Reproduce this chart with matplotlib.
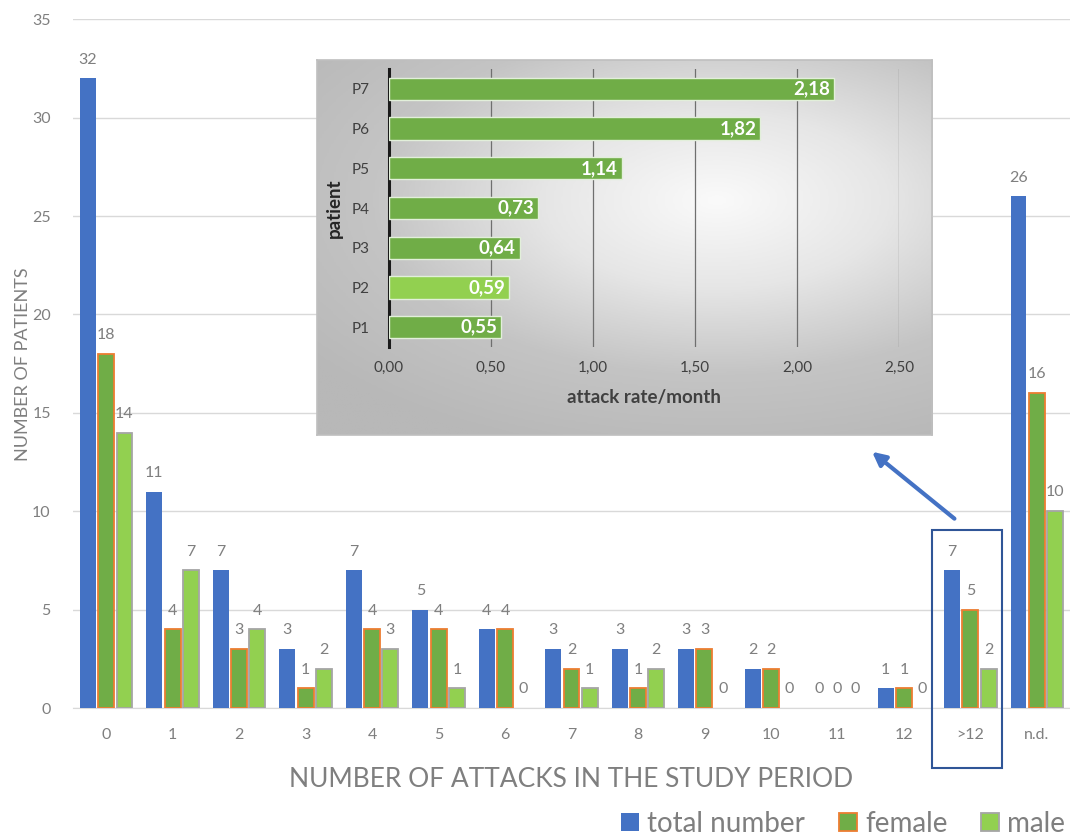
import numpy as np
import matplotlib
matplotlib.use("Agg")
from matplotlib import pyplot as plt
from matplotlib.patches import Rectangle
from matplotlib.ticker import FuncFormatter
from matplotlib.colors import LinearSegmentedColormap

plt.rcParams['font.family'] = ['Lato', 'DejaVu Sans']

# number of patients per number of attacks
categorias = ["0", "1", "2", "3", "4", "5", "6", "7", "8", "9", "10", "11", "12", ">12", "n.d."]
total = [32, 11, 7, 3, 7, 5, 4, 3, 3, 3, 2, 0, 1, 7, 26]
mujeres = [18, 4, 3, 1, 4, 4, 4, 2, 1, 3, 2, 0, 1, 5, 16]
hombres = [14, 7, 4, 2, 3, 1, 0, 1, 2, 0, 0, 0, 0, 2, 10]

# attack rate of the patients with more than 12 attacks
pacientes = ["P1", "P2", "P3", "P4", "P5", "P6", "P7"]
tasa = [0.55, 0.59, 0.64, 0.73, 1.14, 1.82, 2.18]

gris = "#7f7f7f"
azul = "#4472C4"
verde = "#70AD47"
verde_cl = "#92D050"
naranja = "#ED7D31"

fig = plt.figure(figsize=(10.7, 8.38), dpi=100)
ax = fig.add_axes([0.0682, 0.155, 0.9318, 0.822])

x = np.arange(len(categorias))
w = 0.24
d = 0.275
b1 = ax.bar(x - d, total, w, color=azul, label="total number", zorder=3)
b2 = ax.bar(x, mujeres, w, color=verde, edgecolor=naranja, linewidth=1.3, label="female", zorder=3)
b3 = ax.bar(x + d, hombres, w, color=verde_cl, edgecolor="#A5A5A5", linewidth=1.3, label="male", zorder=3)
for barras in (b1, b2, b3):
    for r in barras:
        if r.get_height() == 0:
            r.set_linewidth(0)
        ax.text(r.get_x() + r.get_width() / 2, r.get_height() + 0.6, str(int(r.get_height())),
                ha="center", va="bottom", fontsize=11.5, color=gris)

ax.set_xlim(-0.5, len(categorias) - 0.5)
ax.set_ylim(0, 35)
ax.set_yticks(range(0, 36, 5))
ax.set_xticks(x)
ax.set_xticklabels(categorias)
ax.tick_params(length=0, labelsize=11.5, colors=gris, pad=14)
ax.tick_params(axis="y", pad=16)
ax.grid(axis="y", color="#D9D9D9", linewidth=1, zorder=0)
for s in ["top", "right", "left"]:
    ax.spines[s].set_visible(False)
ax.spines["bottom"].set_color("#D9D9D9")
ax.set_xlabel("NUMBER OF ATTACKS IN THE STUDY PERIOD", fontsize=19, color=gris, labelpad=18)
ax.set_ylabel("NUMBER OF PATIENTS", fontsize=13, color=gris, labelpad=1)

# box around the >12 group
i = categorias.index(">12")
ax.add_patch(Rectangle((i - 0.58, -3.05), 1.06, 12.1, fill=False, edgecolor="#2F5597",
                       linewidth=1.5, clip_on=False, zorder=5))

fig.legend(loc="center left", bbox_to_anchor=(0.557, 0.017), ncol=3, frameon=False,
           fontsize=20, labelcolor=gris, handlelength=0.65, handleheight=0.65,
           handletextpad=0.3, columnspacing=1.2)

# arrow to the inset
ax.annotate("", xy=(0.813, 0.463), xytext=(0.894, 0.379), xycoords="figure fraction",
            textcoords="figure fraction",
            arrowprops=dict(arrowstyle="-|>,head_length=0.8,head_width=0.4", color=azul, lw=3))

# inset background with radial gradient
fondo = fig.add_axes([0.2963, 0.4809, 0.5748, 0.4475], zorder=10)
yy, xx = np.mgrid[-1:1:200j, -1:1:260j]
rr = np.sqrt(((xx - 0.3) / 1.2) ** 2 + (yy + 0.25) ** 2)
cmap = LinearSegmentedColormap.from_list("fondo", ["#FAFAFA", "#E6E6E6", "#C4C4C4", "#B8B8B8"])
fondo.imshow(rr, cmap=cmap, vmin=0, vmax=1.4, aspect="auto", extent=(0, 1, 0, 1))
fondo.set_xticks([])
fondo.set_yticks([])
for s in fondo.spines.values():
    s.set_color("#BFBFBF")
    s.set_linewidth(1.2)

ins = fig.add_axes([0.3636, 0.5859, 0.4766, 0.3317], zorder=11)
ins.patch.set_alpha(0)
colores = [verde] * len(pacientes)
colores[1] = verde_cl
yb = np.arange(len(pacientes))
barras = ins.barh(yb, tasa, 0.56, color=colores, edgecolor="#E2EFDA", linewidth=1, zorder=3)
for r, v in zip(barras, tasa):
    ins.text(v - 0.02, r.get_y() + r.get_height() / 2, f"{v:.2f}".replace(".", ","),
             ha="right", va="center", color="white", fontsize=13.5, fontweight="bold")
ins.set_xlim(0, 2.5)
ins.set_ylim(-0.5, len(pacientes) - 0.5)
ins.set_xticks(np.arange(0, 2.51, 0.5))
ins.xaxis.set_major_formatter(FuncFormatter(lambda v, p: f"{v:.2f}".replace(".", ",")))
ins.set_yticks(yb)
ins.set_yticklabels(pacientes)
ins.tick_params(length=0, labelsize=11, colors="#404040")
ins.tick_params(axis="x", pad=10)
ins.tick_params(axis="y", pad=14)
ins.grid(axis="x", color="#6f6f6f", linewidth=0.9, zorder=0)
for s in ["top", "right", "bottom"]:
    ins.spines[s].set_visible(False)
ins.spines["left"].set_linewidth(2.2)
ins.spines["left"].set_color("#1a1a1a")
ins.set_xlabel("attack rate/month", fontsize=13.5, fontweight="bold", color="#404040", labelpad=10)
ins.set_ylabel("patient", fontsize=13.5, fontweight="bold", color="#262626", labelpad=6)

fig.savefig("out.png", dpi=100)
